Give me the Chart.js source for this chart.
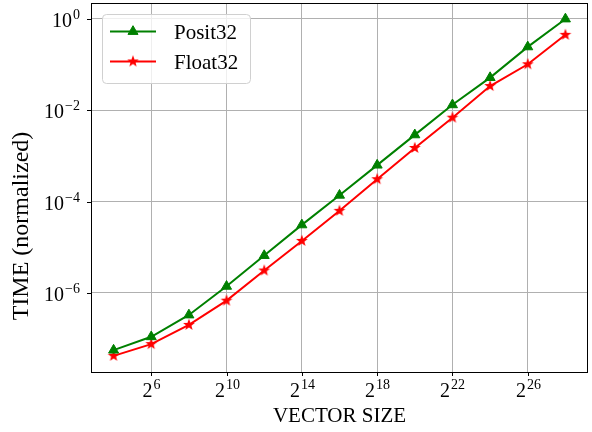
<!DOCTYPE html>
<html>
<head>
<meta charset="utf-8">
<title>Posit32 vs Float32</title>
<script src="https://cdn.jsdelivr.net/npm/chart.js@4.4.1/dist/chart.umd.min.js"></script>
<style>
  body { margin: 0; background: #fff; }
  canvas { display: block; }
</style>
</head>
<body>
<canvas id="myChart" width="592" height="432"></canvas>
<script>
// Datos
const vectorSize = [16, 64, 256, 1024, 4096, 16384, 65536, 262144, 1048576, 4194304, 16777216, 67108864, 268435456];
const posit32 = [5.6e-8, 1.1e-7, 3.3e-7, 1.4e-6, 6.6e-6, 3.1e-5, 1.38e-4, 6.3e-4, 2.9e-3, 1.32e-2, 5.2e-2, 0.245, 1.0];
const float32 = [4.2e-8, 7.6e-8, 2.0e-7, 6.8e-7, 3.1e-6, 1.38e-5, 6.3e-5, 3.1e-4, 1.5e-3, 6.9e-3, 3.4e-2, 0.102, 0.45];
const xTickExp = [6, 10, 14, 18, 22, 26];
const yTickExp = [0, -2, -4, -6];
const seriesNames = ['Posit32', 'Float32'];

const FONT = "'Liberation Serif', 'Times New Roman', serif";

// estrella rellena tipo matplotlib '*'
function starImage(color) {
  const c = document.createElement('canvas');
  c.width = 14; c.height = 14;
  const g = c.getContext('2d');
  g.beginPath();
  for (let i = 0; i < 10; i++) {
    const r = i % 2 === 0 ? 6.2 : 2.6;
    const a = -Math.PI / 2 + i * Math.PI / 5;
    g.lineTo(7 + r * Math.cos(a), 7 + r * Math.sin(a));
  }
  g.closePath();
  g.fillStyle = color;
  g.fill();
  return c;
}

function drawPower(ctx, base, exp, x, y, align) {
  ctx.font = '20px ' + FONT;
  const wb = ctx.measureText(base).width;
  ctx.font = '14px ' + FONT;
  const we = ctx.measureText(exp).width;
  const total = wb + 1 + we;
  let x0 = x;
  if (align === 'center') x0 = x - total / 2;
  if (align === 'right') x0 = x - total;
  ctx.textAlign = 'left';
  ctx.textBaseline = 'alphabetic';
  ctx.font = '20px ' + FONT;
  ctx.fillText(base, x0, y);
  ctx.font = '14px ' + FONT;
  ctx.fillText(exp, x0 + wb + 1, y - 8);
}

const marcoYEtiquetas = {
  id: 'marcoYEtiquetas',
  afterDraw(chart) {
    const ctx = chart.ctx;
    const area = chart.chartArea;
    const sx = chart.scales.x;
    const sy = chart.scales.y;
    ctx.save();
    ctx.fillStyle = '#000';
    ctx.strokeStyle = '#000';
    ctx.lineWidth = 1;

    // ticks y etiquetas eje x
    xTickExp.forEach(e => {
      const px = Math.round(sx.getPixelForValue(2 ** e)) + 0.5;
      ctx.beginPath();
      ctx.moveTo(px, area.bottom);
      ctx.lineTo(px, area.bottom + 4);
      ctx.stroke();
      drawPower(ctx, '2', String(e), px, 397, 'center');
    });

    // ticks y etiquetas eje y
    yTickExp.forEach(e => {
      const py = Math.round(sy.getPixelForValue(10 ** e)) + 0.5;
      ctx.beginPath();
      ctx.moveTo(area.left - 4, py);
      ctx.lineTo(area.left, py);
      ctx.stroke();
      drawPower(ctx, '10', e < 0 ? '\u2212' + (-e) : String(e), 80, py + 7, 'right');
    });

    // marco
    ctx.strokeRect(Math.round(area.left) + 0.5, Math.round(area.top) + 0.5,
      Math.round(area.right - area.left) - 1, Math.round(area.bottom - area.top));

    // titulos de ejes
    ctx.font = '21px ' + FONT;
    ctx.textAlign = 'center';
    ctx.textBaseline = 'alphabetic';
    ctx.fillText('VECTOR SIZE', (area.left + area.right) / 2, 422);
    ctx.save();
    ctx.font = '24px ' + FONT;
    ctx.translate(28, 226);
    ctx.rotate(-Math.PI / 2);
    ctx.fillText('TIME (normalized)', 0, 0);
    ctx.restore();

    // leyenda
    const lx = 102, ly = 14, lw = 148, lh = 69;
    ctx.beginPath();
    ctx.roundRect(lx + 0.5, ly + 0.5, lw, lh, 4);
    ctx.fillStyle = 'rgba(255,255,255,0.8)';
    ctx.fill();
    ctx.strokeStyle = '#d0d0d0';
    ctx.stroke();
    chart.data.datasets.forEach((ds, i) => {
      const cy = 31.5 + i * 30;
      ctx.strokeStyle = ds.borderColor;
      ctx.lineWidth = 2;
      ctx.beginPath();
      ctx.moveTo(110, cy);
      ctx.lineTo(156, cy);
      ctx.stroke();
      ctx.fillStyle = ds.pointBackgroundColor;
      ctx.strokeStyle = ds.borderColor;
      ctx.lineWidth = 1;
      Chart.helpers.drawPoint(ctx, { pointStyle: ds.pointStyle, radius: ds.pointRadius, rotation: 0, borderWidth: 1 }, 133, cy);
      ctx.fillStyle = '#000';
      ctx.font = '21px ' + FONT;
      ctx.textAlign = 'left';
      ctx.textBaseline = 'alphabetic';
      ctx.fillText(ds.label, 174, cy + 7);
    });
    ctx.restore();
  }
};

const ctx = document.getElementById('myChart');
const myChart = new Chart(ctx, {
  type: 'line',
  data: {
    datasets: [{
      label: seriesNames[0],
      data: vectorSize.map((v, i) => ({ x: v, y: posit32[i] })),
      borderColor: '#008000',
      backgroundColor: '#008000',
      pointBackgroundColor: '#008000',
      pointBorderColor: '#008000',
      pointStyle: 'triangle',
      pointRadius: 5.8,
      pointBorderWidth: 1,
      borderWidth: 2,
      tension: 0
    }, {
      label: seriesNames[1],
      data: vectorSize.map((v, i) => ({ x: v, y: float32[i] })),
      borderColor: '#ff0000',
      backgroundColor: '#ff0000',
      pointBackgroundColor: '#ff0000',
      pointBorderColor: '#ff0000',
      pointStyle: starImage('#ff0000'),
      pointRadius: 6,
      borderWidth: 2,
      tension: 0
    }]
  },
  options: {
    responsive: false,
    animation: false,
    devicePixelRatio: 1,
    layout: { autoPadding: false, padding: { left: 91, right: 4, top: 3, bottom: 60 } },
    scales: {
      x: {
        type: 'logarithmic',
        min: 2 ** 2.8,
        max: 2 ** 29.2,
        afterBuildTicks: axis => { axis.ticks = xTickExp.map(e => ({ value: 2 ** e })); },
        ticks: { display: false },
        grid: { color: '#b0b0b0', lineWidth: 1, drawTicks: false },
        border: { display: false }
      },
      y: {
        type: 'logarithmic',
        min: 10 ** -7.73,
        max: 10 ** 0.35,
        afterBuildTicks: axis => { axis.ticks = yTickExp.map(e => ({ value: 10 ** e })); },
        ticks: { display: false },
        grid: { color: '#b0b0b0', lineWidth: 1, drawTicks: false },
        border: { display: false }
      }
    },
    plugins: {
      legend: { display: false },
      tooltip: { enabled: false }
    }
  },
  plugins: [marcoYEtiquetas]
});
</script>
</body>
</html>
